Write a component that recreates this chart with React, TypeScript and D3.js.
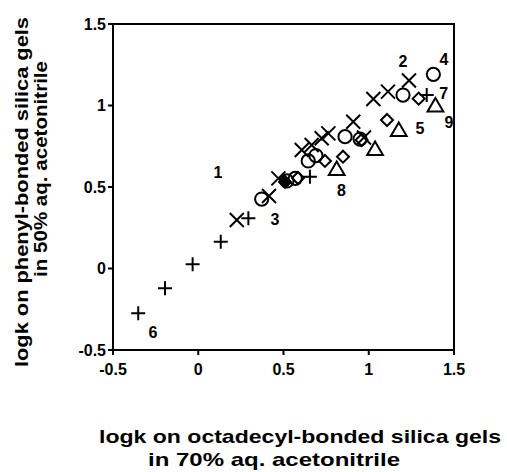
import * as d3 from "d3";

const W = 507;
const H = 472;
const margin = { top: 24, right: 53, bottom: 122, left: 113 };

// series: [logk C18, logk phenyl]
const plusPts: [number, number][] = [
  [-0.352, -0.275], [-0.195, -0.121], [-0.033, 0.026], [0.132, 0.164],
  [0.294, 0.308], [0.655, 0.563], [1.34, 1.064],
];
const crossPts: [number, number][] = [
  [0.226, 0.298], [0.415, 0.445], [0.47, 0.553], [0.607, 0.727],
  [0.665, 0.758], [0.724, 0.799], [0.763, 0.829], [0.909, 0.9],
  [0.972, 0.804], [1.027, 1.04], [1.113, 1.085], [1.236, 1.153],
];
const circlePts: [number, number][] = [
  [0.372, 0.426], [0.52, 0.537], [0.569, 0.553], [0.645, 0.66],
  [0.69, 0.693], [0.861, 0.809], [0.949, 0.794], [1.201, 1.064],
  [1.379, 1.191],
];
const diamondPts: [number, number][] = [
  [0.585, 0.555], [0.743, 0.66], [0.849, 0.686], [0.958, 0.788],
  [1.107, 0.911], [1.293, 1.042],
];
const filledDiamondPts: [number, number][] = [[0.509, 0.531]];
const trianglePts: [number, number][] = [
  [0.812, 0.61], [1.037, 0.733], [1.176, 0.85], [1.391, 1.0],
];

const pointLabels = ["1", "2", "3", "4", "5", "6", "7", "8", "9"];
const labelPos: [number, number][] = [
  [0.116, 0.592], [1.201, 1.272], [0.45, 0.304], [1.441, 1.285], [1.3, 0.862],
  [-0.265, -0.39], [1.44, 1.078], [0.84, 0.482], [1.47, 0.9],
];

const xTicks = [-0.5, 0, 0.5, 1, 1.5];
const yTicks = [-0.5, 0, 0.5, 1, 1.5];
const xTitle = ["logk on octadecyl-bonded silica gels", "in 70% aq. acetonitrile"];
const yTitle = ["logk on phenyl-bonded silica gels", "in 50% aq. acetonitrile"];

const x = d3.scaleLinear().domain([-0.5, 1.5]).range([margin.left, W - margin.right]);
const y = d3.scaleLinear().domain([-0.5, 1.5]).range([H - margin.bottom, margin.top]);

const fmt = (v: number) => (v === 0 ? "0" : String(v));

const plusPath = (s: number) => `M${-s},0H${s}M0,${-s}V${s}`;
const crossPath = (s: number) => `M${-s},${-s}L${s},${s}M${-s},${s}L${s},${-s}`;
const diamondPath = (s: number) => `M0,${-s}L${s},0L0,${s}L${-s},0Z`;
const trianglePath = (s: number) => `M0,${-s}L${s * 1.05},${s * 0.8}L${-s * 1.05},${s * 0.8}Z`;

const FONT = "'Liberation Sans', Arial, Helvetica, sans-serif";

export default function App() {
  const sw = 2;
  return (
    <svg
      width={W}
      height={H}
      style={{ position: "absolute", left: 0, top: 0, background: "#fff" }}
      fontFamily={FONT}
      fontWeight="bold"
    >
      {/* frame */}
      <rect
        x={x(-0.5)}
        y={y(1.5)}
        width={x(1.5) - x(-0.5)}
        height={y(-0.5) - y(1.5)}
        fill="none"
        stroke="#000"
        strokeWidth={2}
      />
      {/* y ticks */}
      {yTicks.map((t) => (
        <g key={"y" + t} transform={`translate(${x(-0.5)},${y(t)})`}>
          <line x1={-5} x2={0} stroke="#000" strokeWidth={2} />
          <text x={-7} dy="0.36em" textAnchor="end" fontSize={16}>
            {fmt(t)}
          </text>
        </g>
      ))}
      {/* x ticks */}
      {xTicks.map((t) => (
        <g key={"x" + t} transform={`translate(${x(t)},${y(-0.5)})`}>
          <line y1={0} y2={5} stroke="#000" strokeWidth={2} />
          <text y={25} textAnchor="middle" fontSize={16}>
            {fmt(t)}
          </text>
        </g>
      ))}

      {/* markers */}
      <g fill="none" stroke="#000" strokeWidth={sw}>
        {plusPts.map(([a, b], i) => (
          <path key={"p" + i} d={plusPath(7)} transform={`translate(${x(a)},${y(b)})`} />
        ))}
        {crossPts.map(([a, b], i) => (
          <path key={"c" + i} d={crossPath(7)} transform={`translate(${x(a)},${y(b)})`} />
        ))}
        {circlePts.map(([a, b], i) => (
          <circle key={"o" + i} cx={x(a)} cy={y(b)} r={6.6} />
        ))}
        {diamondPts.map(([a, b], i) => (
          <path key={"d" + i} d={diamondPath(6)} transform={`translate(${x(a)},${y(b)})`} />
        ))}
        {filledDiamondPts.map(([a, b], i) => (
          <path key={"fd" + i} d={diamondPath(6)} fill="#000" transform={`translate(${x(a)},${y(b)})`} />
        ))}
        {trianglePts.map(([a, b], i) => (
          <path key={"t" + i} d={trianglePath(7.5)} transform={`translate(${x(a)},${y(b)})`} />
        ))}
      </g>

      {/* compound numbers */}
      {pointLabels.map((l, i) => (
        <text
          key={"l" + l}
          x={x(labelPos[i][0])}
          y={y(labelPos[i][1])}
          dy="0.36em"
          textAnchor="middle"
          fontSize={16}
        >
          {l}
        </text>
      ))}

      {/* axis titles */}
      <text x={300} y={443} textAnchor="middle" fontSize={19} textLength={402} lengthAdjust="spacingAndGlyphs">
        {xTitle[0]}
      </text>
      <text x={274} y={466} textAnchor="middle" fontSize={19} textLength={252} lengthAdjust="spacingAndGlyphs">
        {xTitle[1]}
      </text>
      <text
        transform="translate(28,192) rotate(-90)"
        textAnchor="middle"
        fontSize={19}
        textLength={350}
        lengthAdjust="spacingAndGlyphs"
      >
        {yTitle[0]}
      </text>
      <text
        transform="translate(47,169) rotate(-90)"
        textAnchor="middle"
        fontSize={19}
        textLength={216}
        lengthAdjust="spacingAndGlyphs"
      >
        {yTitle[1]}
      </text>
    </svg>
  );
}
